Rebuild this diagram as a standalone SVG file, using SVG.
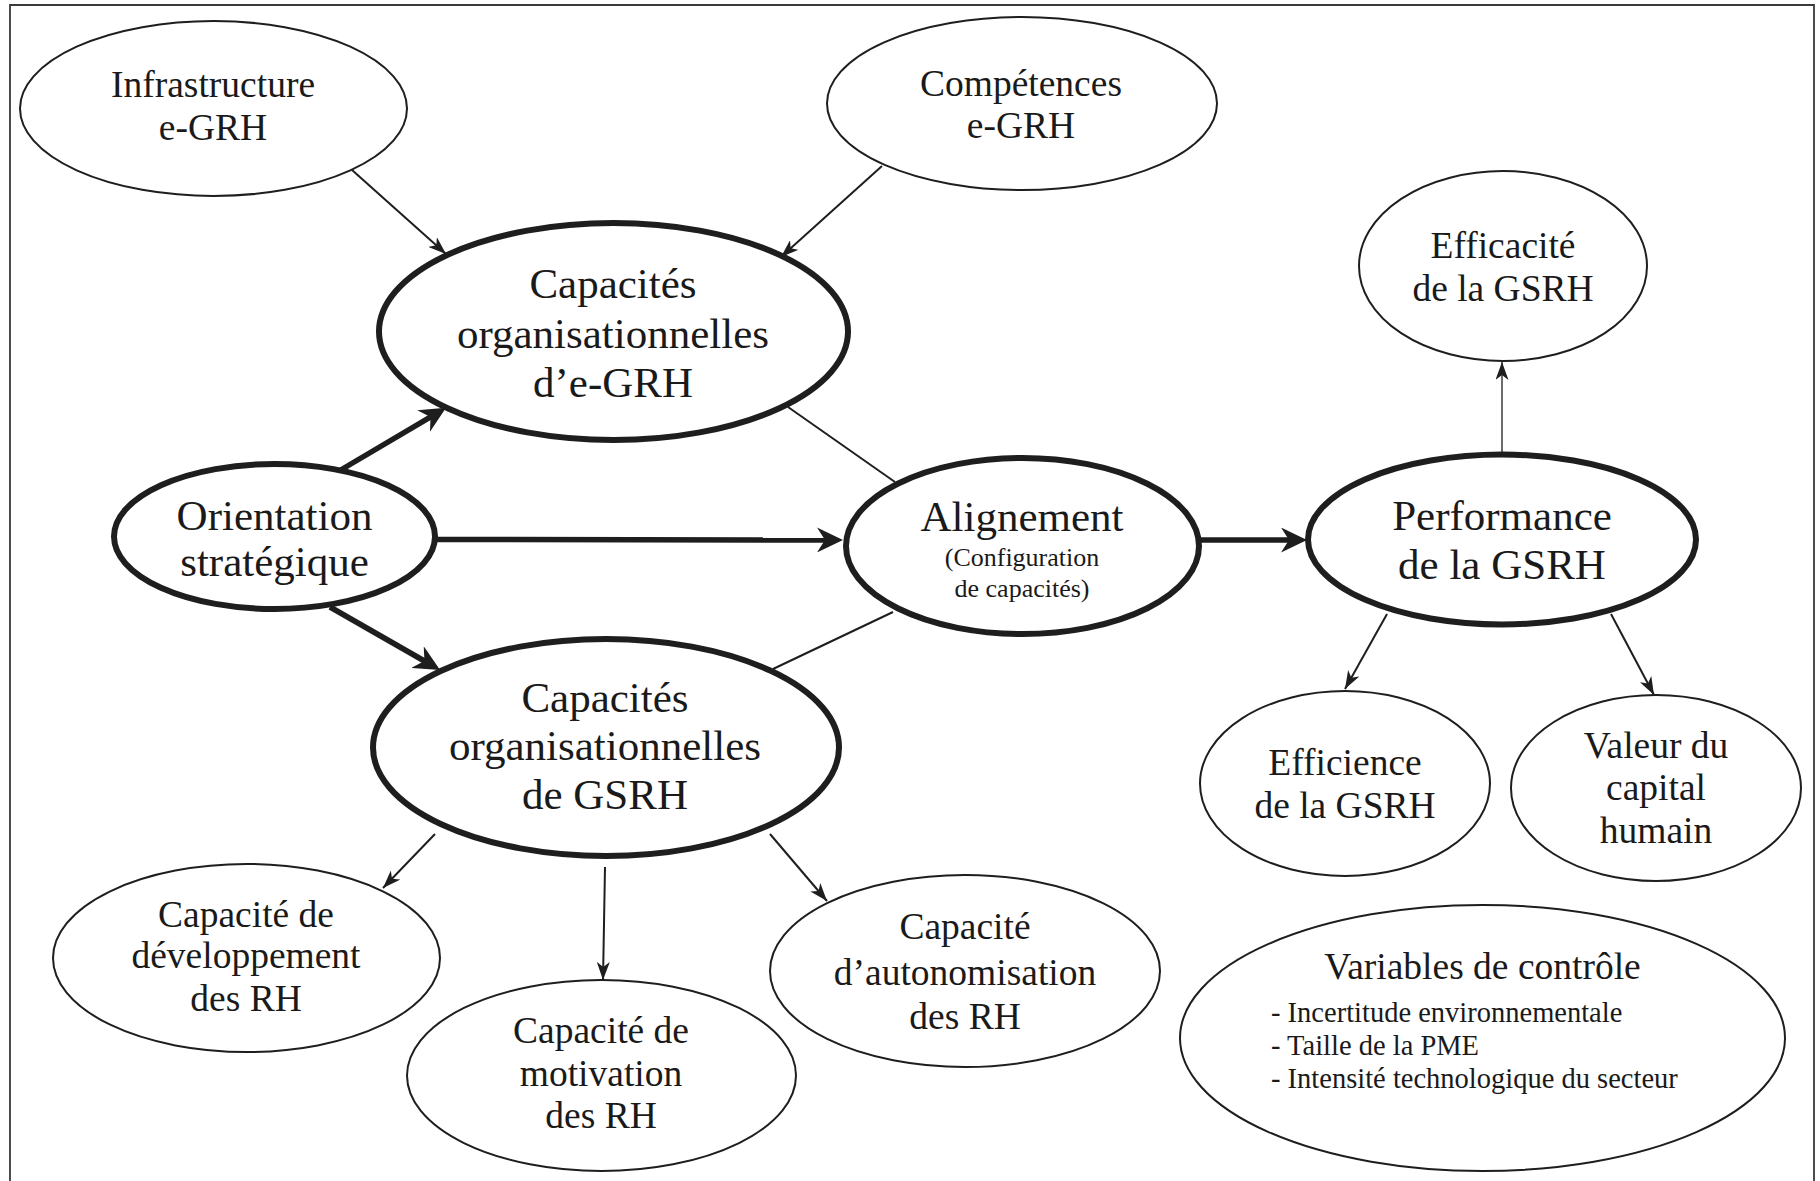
<svg xmlns="http://www.w3.org/2000/svg" width="1820" height="1181" viewBox="0 0 1820 1181">
  <style>
    .node-thin { fill: #ffffff; stroke: #1e1e1e; stroke-width: 2; }
    .node-thick { fill: #ffffff; stroke: #1e1e1e; stroke-width: 6; }
    .t { font-family: "Liberation Serif", "Times New Roman", serif; fill: #1a1a1a; text-anchor: middle; }
    .s37 { font-size: 37.5px; }
    .s43 { font-size: 43px; }
    .s26 { font-size: 26px; }
    .item { font-family: "Liberation Serif", "Times New Roman", serif; fill: #1a1a1a; font-size: 28.5px; }
    .c-thin { fill: none; stroke: #1e1e1e; stroke-width: 2; }
    .c-hair { fill: none; stroke: #1e1e1e; stroke-width: 1.3; }
    .c-thick { fill: none; stroke: #1e1e1e; stroke-width: 5.5; }
  </style>
  <defs>
    <marker id="head-thin" viewBox="0 0 18 13" refX="18" refY="6.5" markerWidth="18" markerHeight="13" markerUnits="userSpaceOnUse" orient="auto">
      <path d="M0,0 L18,6.5 L0,13 L5,6.5 Z" fill="#1e1e1e"/>
    </marker>
    <marker id="head-thick" viewBox="0 0 26 25" refX="19" refY="12.5" markerWidth="26" markerHeight="25" markerUnits="userSpaceOnUse" orient="auto">
      <path d="M0,0 L26,12.5 L0,25 L8,12.5 Z" fill="#1e1e1e"/>
    </marker>
  </defs>

  <rect x="0" y="0" width="1820" height="1181" fill="#ffffff"/>
  <!-- outer frame (open at the bottom edge of the page) -->
  <path d="M10,1190 L10,5 L1814,5 L1814,1190" fill="none" stroke="#3a3a3a" stroke-width="1.8"/>

  <!-- connectors -->
  <g id="connectors">
    <path class="c-thin" d="M352,170 L446,254" marker-end="url(#head-thin)"/>
    <path class="c-thin" d="M882,166 L781,257" marker-end="url(#head-thin)"/>
    <path class="c-thick" d="M339,471 L440,411.4" marker-end="url(#head-thick)"/>
    <path class="c-thick" d="M435,539.5 L836,540" marker-end="url(#head-thick)"/>
    <path class="c-thick" d="M330,607 L434,666.5" marker-end="url(#head-thick)"/>
    <path class="c-thin" d="M788,407 L895,482"/>
    <path class="c-thin" d="M773,669 L893,612"/>
    <path class="c-thick" d="M1199,540 L1300,540" marker-end="url(#head-thick)"/>
    <path class="c-hair" d="M1502,453 L1502,362" marker-end="url(#head-thin)"/>
    <path class="c-thin" d="M1387,614 L1345,689" marker-end="url(#head-thin)"/>
    <path class="c-thin" d="M1611,614 L1654,695" marker-end="url(#head-thin)"/>
    <path class="c-thin" d="M435,834 L383,888" marker-end="url(#head-thin)"/>
    <path class="c-thin" d="M605,867 L603,980" marker-end="url(#head-thin)"/>
    <path class="c-thin" d="M770,834 L827,901" marker-end="url(#head-thin)"/>
  </g>

  <!-- nodes -->
  <g id="infrastructure">
    <ellipse class="node-thin" cx="213.5" cy="108.5" rx="193.5" ry="87.5"/>
    <text class="t s37" x="213" y="97">Infrastructure</text>
    <text class="t s37" x="213" y="140">e-GRH</text>
  </g>

  <g id="competences">
    <ellipse class="node-thin" cx="1022" cy="103.5" rx="195" ry="86.5"/>
    <text class="t s37" x="1021" y="96">Compétences</text>
    <text class="t s37" x="1021" y="138">e-GRH</text>
  </g>

  <g id="capacites-egrh">
    <ellipse class="node-thick" cx="613.5" cy="331.5" rx="234.5" ry="108.5"/>
    <text class="t s43" x="613" y="298">Capacités</text>
    <text class="t s43" x="613" y="348">organisationnelles</text>
    <text class="t s43" x="613" y="397">d’e-GRH</text>
  </g>

  <g id="orientation">
    <ellipse class="node-thick" cx="274.5" cy="536.5" rx="160.5" ry="72.5"/>
    <text class="t s43" x="274.5" y="530">Orientation</text>
    <text class="t s43" x="274.5" y="576">stratégique</text>
  </g>

  <g id="alignement">
    <ellipse class="node-thick" cx="1022.5" cy="546" rx="176.5" ry="88"/>
    <text class="t s43" x="1022" y="531">Alignement</text>
    <text class="t s26" x="1022" y="566">(Configuration</text>
    <text class="t s26" x="1022" y="597">de capacités)</text>
  </g>

  <g id="performance">
    <ellipse class="node-thick" cx="1502" cy="539.5" rx="194" ry="85"/>
    <text class="t s43" x="1502" y="530">Performance</text>
    <text class="t s43" x="1502" y="579">de la GSRH</text>
  </g>

  <g id="efficacite">
    <ellipse class="node-thin" cx="1503" cy="266" rx="144" ry="95"/>
    <text class="t s37" x="1503" y="258">Efficacité</text>
    <text class="t s37" x="1503" y="301">de la GSRH</text>
  </g>

  <g id="capacites-gsrh">
    <ellipse class="node-thick" cx="606" cy="747.5" rx="233" ry="108.5"/>
    <text class="t s43" x="605" y="712">Capacités</text>
    <text class="t s43" x="605" y="760">organisationnelles</text>
    <text class="t s43" x="605" y="809">de GSRH</text>
  </g>

  <g id="developpement">
    <ellipse class="node-thin" cx="246.5" cy="958" rx="193.5" ry="94"/>
    <text class="t s37" x="246" y="927">Capacité de</text>
    <text class="t s37" x="246" y="968">développement</text>
    <text class="t s37" x="246" y="1011">des RH</text>
  </g>

  <g id="motivation">
    <ellipse class="node-thin" cx="601.5" cy="1075.5" rx="194.5" ry="95.5"/>
    <text class="t s37" x="601" y="1043">Capacité de</text>
    <text class="t s37" x="601" y="1086">motivation</text>
    <text class="t s37" x="601" y="1128">des RH</text>
  </g>

  <g id="autonomisation">
    <ellipse class="node-thin" cx="965" cy="971" rx="195" ry="96"/>
    <text class="t s37" x="965" y="939">Capacité</text>
    <text class="t s37" x="965" y="985">d’autonomisation</text>
    <text class="t s37" x="965" y="1029">des RH</text>
  </g>

  <g id="efficience">
    <ellipse class="node-thin" cx="1345" cy="783.5" rx="145" ry="92.5"/>
    <text class="t s37" x="1345" y="775">Efficience</text>
    <text class="t s37" x="1345" y="818">de la GSRH</text>
  </g>

  <g id="valeur">
    <ellipse class="node-thin" cx="1656" cy="788" rx="145" ry="93"/>
    <text class="t s37" x="1656" y="758">Valeur du</text>
    <text class="t s37" x="1656" y="800">capital</text>
    <text class="t s37" x="1656" y="843">humain</text>
  </g>

  <g id="variables-controle">
    <ellipse class="node-thin" cx="1482.5" cy="1038" rx="302.5" ry="133"/>
    <text class="t s37" x="1482.5" y="979">Variables de contrôle</text>
    <text class="item" x="1271" y="1022">- Incertitude environnementale</text>
    <text class="item" x="1271" y="1055">- Taille de la PME</text>
    <text class="item" x="1271" y="1088">- Intensité technologique du secteur</text>
  </g>
</svg>
